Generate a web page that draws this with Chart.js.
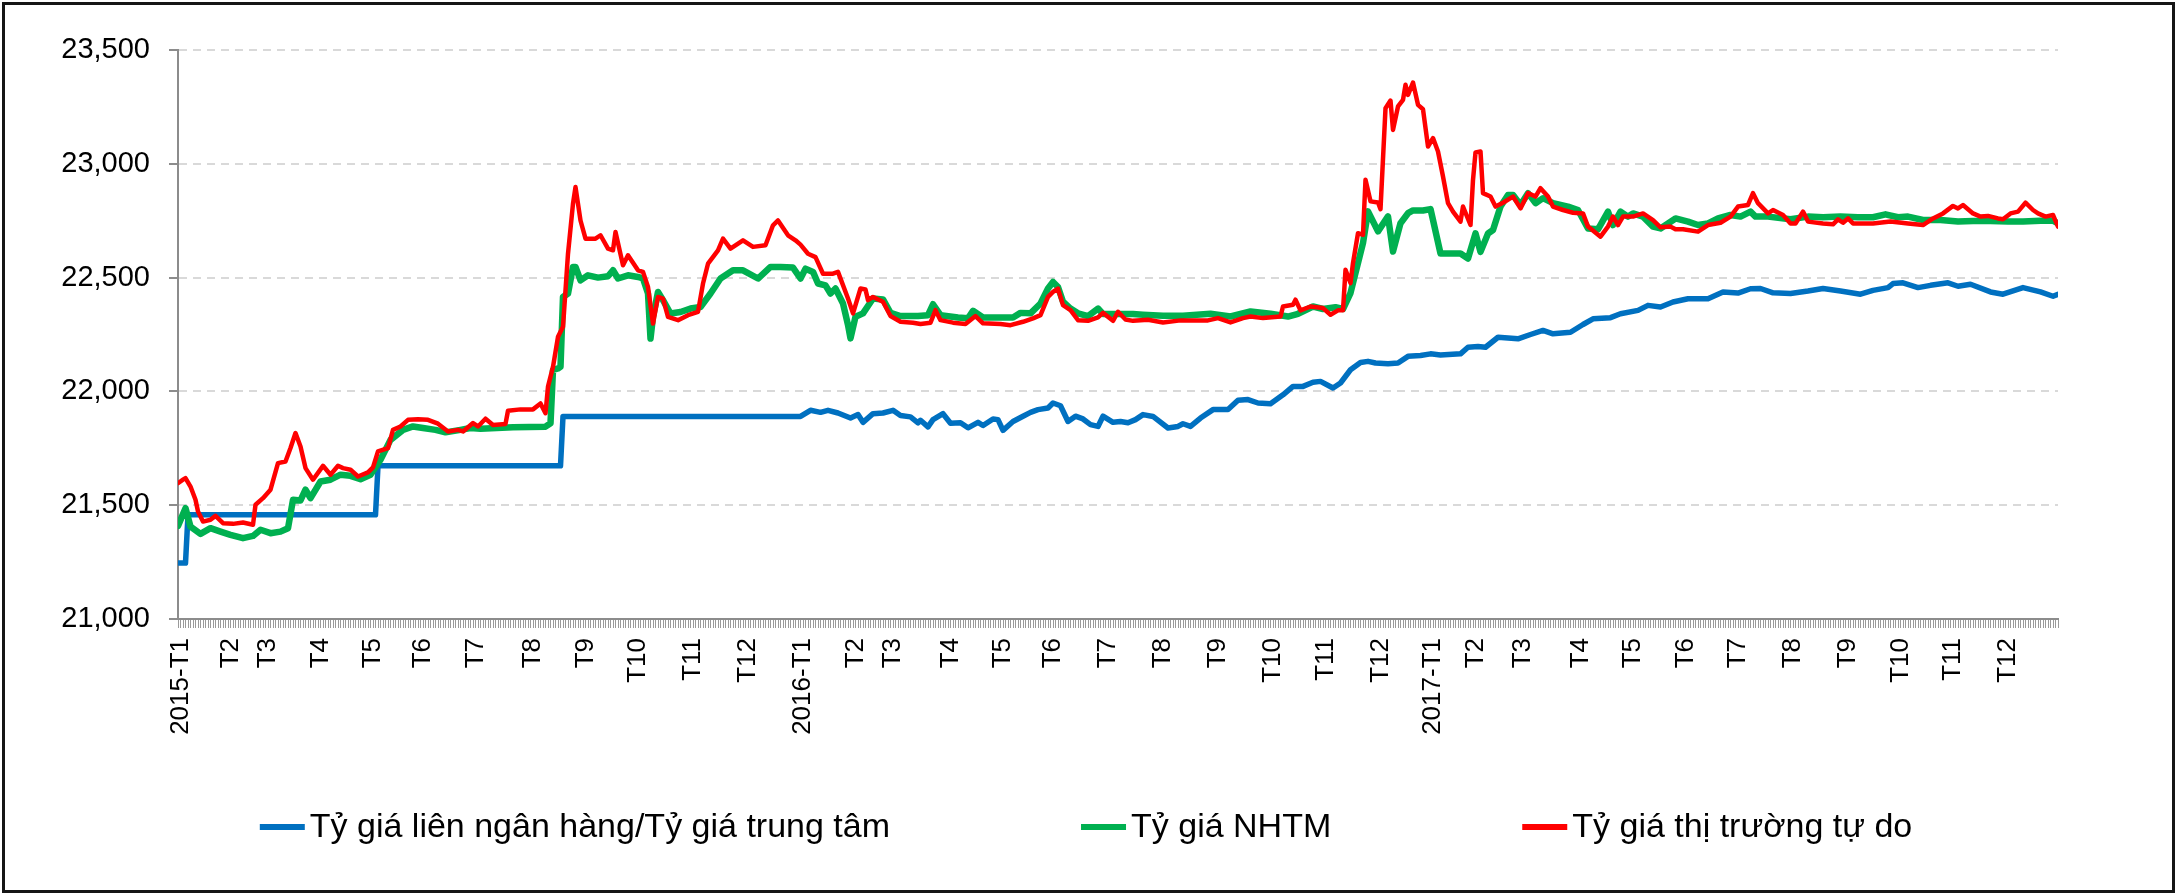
<!DOCTYPE html>
<html>
<head>
<meta charset="utf-8">
<script src="https://cdn.jsdelivr.net/npm/chart.js@4.4.1/dist/chart.umd.min.js"></script>
<style>
  html, body { margin: 0; padding: 0; background: #fff; }
  #wrap { position: relative; width: 2177px; height: 894px; overflow: hidden; }
  #frame { position: absolute; left: 2px; top: 2px; width: 2167px; height: 885px; border: 3px solid #151515; pointer-events: none; }
  canvas { display: block; }
</style>
</head>
<body>
<div id="wrap"><canvas id="c" width="2177" height="894"></canvas><div id="frame"></div></div>
<script>
// ---- Data (x = trading-day index from 2015-01-02, y = VND/USD) ----
const seriesNames = [
  "Tỷ giá liên ngân hàng/Tỷ giá trung tâm",
  "Tỷ giá NHTM",
  "Tỷ giá thị trường tự do"
];
const lastDay = 752;

// month label positions (trading-day index) and their texts
const monthDays = [1, 21, 36, 57, 78, 98, 119, 142, 163, 184, 206, 228,
                   250, 271, 286, 309, 330, 350, 372, 394, 416, 438, 459, 481,
                   502, 519, 538, 561, 582, 603, 624, 646, 668, 689, 710, 732];
const monthLabels = ["2015-T1","T2","T3","T4","T5","T6","T7","T8","T9","T10","T11","T12",
                     "2016-T1","T2","T3","T4","T5","T6","T7","T8","T9","T10","T11","T12",
                     "2017-T1","T2","T3","T4","T5","T6","T7","T8","T9","T10","T11","T12"];
const yTickValues = [21000, 21500, 22000, 22500, 23000, 23500];

const interbank = [[0,21246],[3,21246],[4,21458],[79,21458],[80,21673],[153,21673],[154,21890],[249,21890],
[253,21917],[257,21908],[260,21917],[264,21905],[269,21883],[272,21898],[274,21864],[278,21902],[282,21905],
[286,21917],[289,21894],[293,21888],[296,21862],[297,21873],[300,21844],[302,21876],[306,21902],[309,21860],
[313,21862],[316,21840],[320,21864],[322,21850],[326,21879],[328,21876],[330,21829],[334,21868],[338,21891],
[341,21908],[344,21920],[348,21927],[350,21949],[353,21937],[356,21868],[359,21891],[362,21879],[365,21854],
[368,21846],[370,21891],[374,21864],[377,21868],[380,21862],[383,21876],[386,21898],[390,21890],[396,21839],
[400,21846],[402,21858],[405,21846],[409,21883],[414,21920],[420,21920],[424,21961],[428,21964],[432,21949],
[437,21946],[442,21985],[446,22022],[450,22022],[454,22040],[457,22044],[462,22015],[465,22037],[469,22095],
[473,22127],[476,22132],[479,22125],[484,22122],[488,22125],[492,22154],[497,22158],[501,22165],[505,22160],
[513,22165],[516,22194],[520,22197],[523,22194],[528,22238],[536,22231],[541,22250],[546,22268],[550,22253],
[557,22260],[562,22294],[566,22319],[573,22324],[577,22341],[584,22356],[588,22378],[593,22371],[598,22393],
[604,22407],[612,22407],[618,22437],[624,22432],[629,22451],[633,22452],[638,22433],[645,22430],[652,22441],
[658,22452],[665,22441],[673,22427],[678,22444],[684,22456],[686,22474],[690,22477],[696,22456],[701,22466],
[708,22477],[712,22462],[717,22471],[725,22437],[730,22427],[738,22456],[745,22437],[750,22418],[752,22427]];

const commercial = [[0,21409],[3,21487],[5,21406],[9,21374],[13,21399],[17,21384],[21,21370],[26,21355],[30,21365],
[33,21392],[37,21377],[41,21384],[44,21399],[46,21524],[49,21521],[51,21568],[53,21531],[57,21604],[61,21612],
[65,21634],[69,21629],[73,21614],[77,21634],[81,21700],[85,21787],[90,21831],[94,21846],[98,21839],[103,21831],
[107,21820],[113,21831],[117,21839],[121,21836],[134,21842],[147,21845],[149,21860],[150,22094],[152,22101],
[153,22108],[154,22415],[156,22430],[158,22547],[159,22547],[161,22488],[164,22510],[168,22500],[172,22506],
[174,22532],[176,22496],[180,22510],[184,22503],[186,22496],[188,22430],[189,22232],[190,22327],[192,22437],
[194,22401],[197,22342],[201,22349],[205,22364],[209,22371],[213,22430],[217,22496],[222,22532],[226,22532],
[232,22496],[237,22547],[241,22547],[246,22544],[249,22496],[251,22539],[254,22525],[256,22474],[259,22466],
[261,22430],[263,22452],[266,22386],[268,22292],[269,22233],[271,22328],[274,22343],[278,22408],[282,22404],
[285,22345],[289,22331],[296,22331],[300,22335],[302,22383],[305,22335],[312,22325],[316,22321],[318,22354],
[322,22325],[329,22325],[334,22325],[337,22345],[341,22343],[345,22386],[348,22452],[350,22481],[352,22459],
[354,22394],[357,22364],[360,22343],[364,22331],[368,22364],[370,22340],[376,22340],[382,22340],[386,22337],
[394,22332],[402,22332],[413,22341],[421,22329],[429,22351],[437,22341],[444,22329],[448,22341],[454,22373],
[458,22362],[463,22370],[466,22362],[469,22432],[472,22564],[474,22652],[476,22791],[480,22703],[484,22769],
[486,22615],[489,22739],[492,22783],[494,22795],[498,22795],[501,22801],[502,22753],[505,22606],[509,22606],
[513,22606],[516,22584],[519,22694],[521,22613],[524,22694],[526,22709],[529,22812],[532,22863],[534,22863],
[537,22819],[540,22871],[543,22827],[546,22849],[550,22827],[556,22812],[560,22797],[564,22716],[568,22712],
[572,22790],[574,22731],[577,22790],[580,22768],[582,22782],[586,22768],[590,22724],[593,22716],[599,22760],
[604,22746],[608,22731],[612,22738],[616,22760],[621,22775],[625,22768],[629,22790],[631,22768],[636,22768],
[645,22756],[652,22768],[658,22765],[665,22768],[672,22765],[678,22765],[683,22778],[688,22765],[692,22768],
[698,22753],[705,22753],[712,22746],[718,22749],[725,22749],[732,22746],[738,22746],[745,22750],[750,22750],
[752,22738]];

const freeMarket = [[0,21597],[2,21612],[3,21619],[5,21582],[7,21524],[8,21472],[10,21428],[13,21436],[15,21453],
[18,21421],[22,21418],[26,21424],[30,21414],[31,21502],[34,21531],[37,21568],[40,21685],[43,21692],[45,21751],
[47,21817],[49,21758],[51,21663],[54,21612],[58,21673],[61,21634],[64,21673],[66,21663],[69,21656],[72,21626],
[76,21644],[78,21666],[80,21736],[84,21751],[86,21831],[89,21846],[92,21875],[96,21878],[100,21875],[104,21858],
[108,21824],[112,21831],[114,21824],[118,21861],[120,21846],[123,21880],[126,21852],[131,21857],[132,21915],
[137,21921],[142,21921],[145,21947],[147,21904],[148,22021],[150,22108],[152,22240],[154,22284],[155,22444],
[156,22605],[158,22825],[159,22898],[161,22751],[163,22671],[167,22671],[169,22686],[172,22627],[174,22620],
[175,22700],[178,22554],[180,22598],[184,22532],[186,22525],[188,22459],[190,22298],[192,22415],[194,22408],
[196,22327],[200,22313],[204,22335],[208,22349],[210,22474],[212,22561],[216,22620],[218,22671],[221,22627],
[226,22664],[230,22635],[235,22642],[238,22730],[240,22751],[244,22686],[247,22664],[249,22645],[252,22605],
[255,22590],[258,22517],[262,22517],[264,22525],[268,22408],[270,22343],[273,22452],[275,22448],[276,22401],
[278,22415],[282,22394],[285,22331],[289,22306],[294,22302],[297,22296],[301,22302],[303,22357],[305,22313],
[310,22302],[315,22296],[319,22331],[322,22299],[329,22296],[333,22291],[338,22306],[342,22321],[345,22335],
[348,22415],[350,22437],[352,22452],[354,22379],[357,22357],[360,22313],[364,22310],[368,22325],[370,22345],
[374,22310],[376,22350],[379,22316],[382,22310],[388,22315],[394,22303],[401,22312],[412,22312],[416,22322],
[421,22303],[426,22322],[429,22329],[434,22322],[441,22329],[442,22373],[446,22381],[447,22403],[449,22356],
[453,22373],[458,22366],[461,22337],[464,22356],[466,22356],[467,22534],[469,22476],[470,22564],[472,22695],
[474,22688],[475,22930],[477,22835],[480,22830],[481,22801],[483,23244],[485,23278],[486,23149],[488,23252],
[490,23281],[491,23347],[492,23303],[494,23357],[496,23259],[498,23240],[500,23076],[502,23113],[504,23054],
[506,22944],[508,22827],[510,22790],[513,22746],[514,22812],[517,22731],[518,22929],[519,23050],[521,23054],
[522,22871],[525,22856],[527,22812],[530,22829],[534,22856],[537,22804],[540,22871],[543,22856],[545,22893],
[548,22856],[550,22812],[554,22797],[558,22785],[562,22782],[564,22724],[569,22680],[572,22724],[574,22768],
[576,22731],[578,22768],[582,22768],[586,22782],[590,22753],[593,22721],[597,22724],[599,22712],[602,22712],
[608,22702],[612,22731],[617,22741],[621,22768],[624,22812],[628,22819],[630,22871],[632,22827],[636,22782],
[638,22797],[642,22775],[645,22738],[647,22738],[650,22790],[652,22746],[658,22738],[662,22734],[664,22756],
[666,22741],[668,22760],[670,22738],[678,22738],[685,22746],[692,22738],[698,22731],[702,22760],[706,22782],
[710,22815],[712,22804],[714,22819],[718,22782],[721,22768],[724,22771],[728,22760],[730,22756],[733,22782],
[736,22790],[739,22829],[742,22797],[744,22782],[747,22768],[750,22775],[752,22724]];

// ---- Chart ----
const toPoints = arr => arr.map(p => ({ x: p[0], y: p[1] }));
const labelByDay = new Map(monthDays.map((d, i) => [d, monthLabels[i]]));
const allDays = Array.from({ length: lastDay + 1 }, (_, i) => i);
const FONT = '"Liberation Sans", Arial, sans-serif';
const AXIS_GRAY = '#8c8c8c';

const rowLegend = {
  id: 'rowLegend',
  afterDraw(chart) {
    const ctx = chart.ctx;
    const ds = chart.data.datasets;
    ctx.save();
    ctx.font = '34px ' + FONT;
    const lineLen = 45, textGap = 5, itemGap = 191, cx = 1086, cy = 827;
    const widths = ds.map(d => lineLen + textGap + ctx.measureText(d.label).width);
    const total = widths.reduce((a, b) => a + b, 0) + itemGap * (ds.length - 1);
    let x = cx - total / 2;
    ds.forEach((d, i) => {
      ctx.strokeStyle = d.borderColor;
      ctx.lineWidth = 6;
      ctx.lineCap = 'butt';
      ctx.beginPath();
      ctx.moveTo(x, cy);
      ctx.lineTo(x + lineLen, cy);
      ctx.stroke();
      ctx.fillStyle = '#000';
      ctx.textAlign = 'left';
      ctx.textBaseline = 'middle';
      ctx.fillText(d.label, x + lineLen + textGap, cy + 1);
      x += widths[i] + itemGap;
    });
    ctx.restore();
  }
};

new Chart(document.getElementById('c'), {
  type: 'line',
  data: {
    datasets: [
      { label: seriesNames[0], data: toPoints(interbank), borderColor: '#0070C0', borderWidth: 5.5, order: 3 },
      { label: seriesNames[1], data: toPoints(commercial), borderColor: '#00B050', borderWidth: 6.5, order: 2 },
      { label: seriesNames[2], data: toPoints(freeMarket), borderColor: '#FF0000', borderWidth: 4.5, order: 1 }
    ]
  },
  options: {
    responsive: false,
    animation: false,
    events: [],
    elements: {
      point: { radius: 0 },
      line: { tension: 0, borderJoinStyle: 'round', borderCapStyle: 'round', fill: false }
    },
    layout: { padding: { left: 0, right: 119, top: 50, bottom: 0 } },
    plugins: { legend: { display: false }, tooltip: { enabled: false } },
    scales: {
      x: {
        type: 'linear',
        min: 0,
        max: lastDay,
        afterBuildTicks: ax => { ax.ticks = allDays.map(v => ({ value: v })); },
        afterFit: ax => { ax.height = 275; },
        ticks: {
          autoSkip: false,
          minRotation: 90,
          maxRotation: 90,
          padding: 10,
          color: '#000',
          font: { family: FONT, size: 26 },
          callback: v => labelByDay.get(v) ?? ''
        },
        grid: { drawOnChartArea: false, drawTicks: true, tickLength: 9, tickColor: '#9a9a9a', tickWidth: 1 },
        border: { color: AXIS_GRAY, width: 2 }
      },
      y: {
        min: 21000,
        max: 23500,
        afterBuildTicks: ax => { ax.ticks = yTickValues.map(v => ({ value: v })); },
        afterFit: ax => { ax.width = 178; },
        ticks: {
          padding: 19,
          color: '#000',
          font: { family: FONT, size: 29 },
          callback: v => Number(v).toLocaleString('en-US')
        },
        grid: {
          color: c => (c.tick && c.tick.value === 21000) ? 'rgba(0,0,0,0)' : '#d9d9d9',
          lineWidth: 2,
          tickLength: 9,
          tickColor: AXIS_GRAY,
          tickWidth: 2
        },
        border: { color: AXIS_GRAY, width: 2, dash: [8, 6] }
      }
    }
  },
  plugins: [rowLegend]
});
</script>
</body>
</html>
